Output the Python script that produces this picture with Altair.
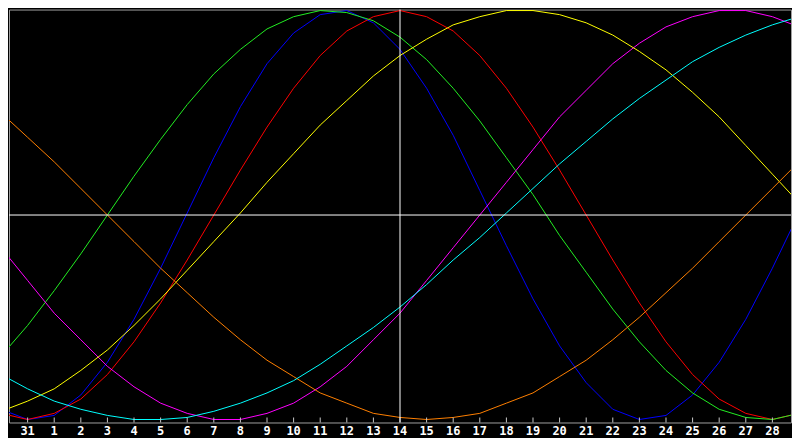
"""Biorhythm chart: seven cycles over one month, black background."""
import altair as alt
import pandas as pd

# x slots: -1 is the slot left of "31", 29 the slot right of "28"
day_slot = list(range(-1, 30))
day_ticks = list(range(0, 29))
day_labels = ["31", "1", "2", "3", "4", "5", "6", "7", "8", "9", "10", "11",
              "12", "13", "14", "15", "16", "17", "18", "19", "20", "21", "22",
              "23", "24", "25", "26", "27", "28"]
today_slot = 14

# cycle values in percent, one per slot
physical = [-95, -100, -98, -88, -72, -51, -26, 1, 28, 53, 74, 89, 98, 100, 94, 81,
            62, 39, 12, -15, -41, -64, -82, -95, -100, -98, -88, -72, -51, -26, 1]
emotional = [-97, -100, -97, -90, -78, -62, -43, -22, 0, 22, 43, 62, 78, 90, 97, 100,
             97, 90, 78, 62, 43, 22, 0, -22, -43, -62, -78, -90, -97, -100, -97]
intellectual = [-69, -54, -37, -19, 0, 19, 37, 54, 69, 81, 91, 97, 100, 99, 95, 87,
                76, 62, 46, 28, 10, -10, -28, -46, -62, -76, -87, -95, -99, -100, -97]
intuitive = [-16, -32, -48, -61, -74, -84, -92, -97, -100, -100, -97, -92, -84, -74, -61, -48,
             -32, -16, 0, 16, 32, 48, 61, 74, 84, 92, 97, 100, 100, 97, 92]
aesthetic = [-96, -91, -85, -76, -66, -54, -41, -27, -13, 1, 16, 30, 44, 56, 68, 78,
             86, 93, 97, 100, 100, 98, 94, 88, 80, 71, 60, 48, 34, 20, 6]
awareness = [50, 38, 26, 13, 0, -13, -26, -38, -50, -61, -71, -79, -87, -92, -97, -99,
             -100, -99, -97, -92, -87, -79, -71, -61, -50, -38, -26, -13, 0, 13, 26]
spiritual = [-78, -85, -91, -95, -98, -100, -100, -99, -96, -92, -87, -81, -73, -64, -55, -45,
             -34, -22, -11, 1, 13, 25, 36, 47, 57, 66, 75, 82, 88, 93, 97]

cycles = {
    "physical": physical,
    "emotional": emotional,
    "intellectual": intellectual,
    "intuitive": intuitive,
    "aesthetic": aesthetic,
    "awareness": awareness,
    "spiritual": spiritual,
}
cycle_colors = ["#0000ff", "#ff0000", "#22ee22", "#ff00ff", "#ffff00", "#ff8000", "#00ffff"]

PLOT_W = 784
PLOT_H = 414

df = pd.concat(
    [pd.DataFrame({"slot": day_slot, "value": vals, "cycle": name}) for name, vals in cycles.items()],
    ignore_index=True,
)
df_days = pd.DataFrame({"slot": day_ticks, "label": day_labels})

x_scale = alt.Scale(domain=[-0.7, 28.7], nice=False, zero=False)
y_scale = alt.Scale(domain=[-101.46, 100.49], nice=False, zero=False)

lines = (
    alt.Chart(df)
    .mark_line(strokeWidth=1, clip=True)
    .encode(
        x=alt.X("slot:Q", scale=x_scale, axis=None),
        y=alt.Y("value:Q", scale=y_scale, axis=None),
        color=alt.Color(
            "cycle:N",
            scale=alt.Scale(domain=list(cycles), range=cycle_colors),
            legend=None,
        ),
    )
)

# short ticks pointing up from the bottom frame
ticks = (
    alt.Chart(df_days)
    .mark_rule(color="#c8c8c8", strokeWidth=1)
    .encode(x=alt.X("slot:Q", axis=None), y=alt.value(PLOT_H - 5), y2=alt.value(PLOT_H))
)

# day labels under the frame
labels = (
    alt.Chart(df_days)
    .mark_text(
        color="#ffffff",
        font="DejaVu Sans Mono",
        fontWeight="bold",
        fontSize=12,
        baseline="top",
        align="center",
    )
    .encode(x=alt.X("slot:Q", axis=None), y=alt.value(PLOT_H + 4), text="label:N")
)

zero_line = (
    alt.Chart(pd.DataFrame({"value": [0]}))
    .mark_rule(color="#ffffff", strokeWidth=1)
    .encode(y=alt.Y("value:Q", axis=None))
)

today_line = (
    alt.Chart(pd.DataFrame({"slot": [today_slot]}))
    .mark_rule(color="#ffffff", strokeWidth=1)
    .encode(x=alt.X("slot:Q", axis=None))
)

chart = (
    alt.layer(lines, ticks, labels, zero_line, today_line)
    .properties(width=PLOT_W, height=PLOT_H, background="#000000", padding=0)
    .configure_view(stroke="#a0a0a0", strokeWidth=1)
)

chart.save("out.html", embed_options={"renderer": "svg", "actions": False})
